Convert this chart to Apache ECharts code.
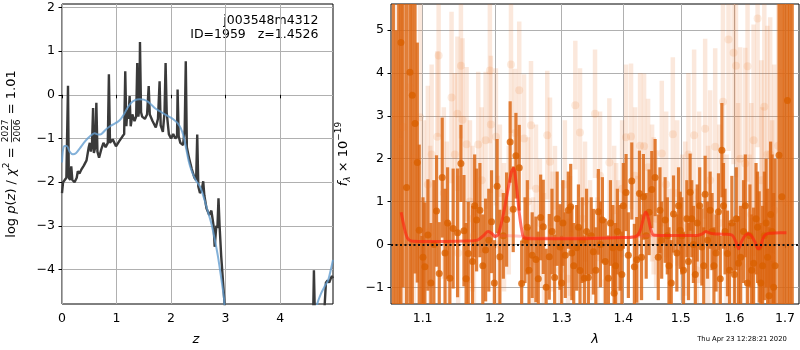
<!DOCTYPE html>
<html>
<head>
<meta charset="utf-8">
<script src="https://cdn.jsdelivr.net/npm/echarts@6/dist/echarts.min.js"></script>
<style>
html, body { margin: 0; padding: 0; background: #fff; }
#chart { width: 800px; height: 350px; }
</style>
</head>
<body>
<div id="chart"></div>
<script>
// ---- left panel: log p(z) ----
const pzZ = [0.00,0.02,0.05,0.08,0.10,0.11,0.125,0.15,0.17,0.19,0.23,0.27,0.29,0.32,0.36,0.40,0.45,0.49,0.51,0.53,0.55,0.57,0.585,0.61,0.63,0.65,0.68,0.72,0.76,0.80,0.84,0.86,0.88,0.93,0.99,1.05,1.11,1.14,1.16,1.18,1.20,1.22,1.24,1.26,1.29,1.33,1.36,1.38,1.40,1.42,1.43,1.45,1.47,1.52,1.56,1.59,1.61,1.66,1.72,1.76,1.79,1.81,1.85,1.88,1.90,1.92,1.96,2.00,2.04,2.08,2.11,2.12,2.14,2.17,2.22,2.25,2.27,2.29,2.33,2.38,2.43,2.46,2.48,2.50,2.53,2.56,2.59,2.61,2.65,2.70,2.74,2.78,2.80,2.83,2.85,2.87,2.89,2.92,2.96,3.02,4.60,4.62,4.64,4.80,4.84,4.87,4.90,4.93,4.95,4.97];
const pzLogp = [-2.25,-2.0,-1.95,-1.9,-1.9,0.21,-1.9,-1.95,-1.64,-1.95,-2.0,-1.9,-1.75,-1.8,-1.7,-1.62,-1.5,-1.2,-1.1,-1.3,-1.15,-0.3,-1.33,-1.2,-0.18,-1.3,-1.44,-1.25,-1.1,-1.2,-1.1,0.47,-1.1,-1.02,-1.18,-1.06,-0.95,-0.9,0.54,-0.72,-0.34,-0.55,-0.03,-0.72,-0.45,-0.6,-0.5,0.73,-0.5,-0.3,1.21,-0.4,-0.5,-0.55,-0.45,0.2,-0.45,-0.6,-0.75,-0.55,0.31,-0.7,-0.85,-0.4,0.73,-0.4,-0.9,-1.0,-0.9,-1.0,-0.95,0.12,-0.95,-1.1,-1.15,-0.8,0.77,-1.2,-1.45,-1.7,-1.9,-1.95,-0.91,-2.1,-2.25,-2.2,-1.98,-2.3,-2.6,-2.75,-2.65,-3.0,-3.48,-3.0,-3.05,-2.37,-3.0,-3.7,-4.4,-5.5,-5.5,-4.02,-5.2,-5.2,-4.3,-4.25,-4.3,-4.2,-4.15,-4.2];
const smoothZ = [0.00,0.02,0.05,0.09,0.14,0.20,0.26,0.33,0.40,0.47,0.54,0.60,0.66,0.72,0.80,0.88,0.95,1.02,1.08,1.14,1.20,1.27,1.34,1.42,1.50,1.58,1.65,1.72,1.80,1.88,1.96,2.04,2.12,2.18,2.23,2.28,2.33,2.38,2.45,2.53,2.60,2.67,2.74,2.80,2.86,2.92,2.97,3.02,4.62,4.68,4.75,4.82,4.88,4.93,4.97];
const smoothLogp = [-1.55,-1.25,-1.17,-1.17,-1.3,-1.36,-1.33,-1.22,-1.1,-1.0,-0.92,-0.88,-0.91,-0.9,-0.8,-0.72,-0.67,-0.62,-0.55,-0.44,-0.3,-0.18,-0.12,-0.1,-0.11,-0.16,-0.24,-0.32,-0.38,-0.44,-0.5,-0.56,-0.65,-0.77,-0.95,-1.25,-1.55,-1.75,-1.95,-2.1,-2.35,-2.65,-2.95,-3.3,-3.7,-4.2,-4.65,-5.2,-5.2,-4.79,-4.55,-4.38,-4.25,-4.0,-3.78];
const zTicks = [0, 1, 2, 3, 4];
const pzTicks = [-4, -3, -2, -1, 0, 1, 2];

// ---- right panel: spectrum ----
const darkWave = [1.062,1.0655,1.069,1.0717,1.0745,1.079,1.0834,1.0864,1.090,1.093,
  1.0955,1.099,1.103,1.107,1.111,1.115,1.1185,1.1222,1.1262,1.130,
  1.1366,1.1411,1.1472,1.1518,1.156,1.162,1.168,1.1737,1.1784,1.1865,
  1.195,1.199,1.203,1.207,1.212,1.2168,1.222,1.2265,1.2305,1.2354,
  1.239,1.244,1.250,1.2548,1.2604,1.2676,1.2716,1.276,1.2808,1.285,
  1.2891,1.2974,1.302,1.3057,1.3104,1.3142,1.319,1.3237,1.329,1.336,
  1.3424,1.347,1.3505,1.3586,1.3652,1.370,1.3751,1.3824,1.3846,1.390,
  1.3945,1.400,1.4046,1.4085,1.4143,1.4187,1.4228,1.4273,1.4342,1.439,
  1.444,1.4487,1.4545,1.460,1.466,1.4721,1.479,1.487,1.493,1.4989,
  1.505,1.511,1.517,1.523,1.530,1.5385,1.5446,1.5539,1.561,1.5696,
  1.576,1.582,1.5867,1.595,1.600,1.6078,1.6175,1.625,1.630,1.6372,
  1.642,1.6482,1.655,1.662,1.668,1.674,1.680,1.688,1.6938,1.699,
  1.7052,1.710,1.715,
  1.1005,1.1335,1.159,1.171,1.1825,1.191,1.2475,1.264,1.293,1.300,
  1.316,1.3265,1.3325,1.3395,1.3545,1.362,1.3785,1.387,1.3975,1.431,
  1.463,1.476,1.483,1.496,1.502,1.514,1.520,1.5265,1.5345,1.542,
  1.549,1.5575,1.565,1.573,1.579,1.5905,1.6035,1.612,1.621,1.6335,
  1.645,1.6515,1.6585,1.665,1.671,1.677];
const darkFlux = [8,-4,6,4.71,7,1.33,4.02,3.48,2.82,1.91,
  0.33,-1.6,-0.52,0.22,-0.9,0.0,0.78,-0.68,1.56,-0.2,
  -0.79,0.37,0.27,1.89,0.32,-0.21,-0.40,0.57,0.80,-0.13,
  0.53,-0.9,1.36,-0.29,0.2,0.58,2.39,0.82,2.07,1.79,
  -0.91,0.1,-0.6,-0.25,-0.35,0.63,0.41,-1.0,-0.29,0.3,
  -0.77,-0.06,0.5,-0.25,0.8,0.88,-0.5,-0.08,-0.61,-0.79,
  -0.77,0.2,-0.17,0.76,0.57,-0.4,-0.79,-0.08,-1.14,0.3,
  -0.08,0.9,1.21,-0.25,1.48,-0.52,-0.36,1.19,1.11,0.2,
  0.75,1.28,1.56,-0.3,0.1,0.57,-0.5,0.71,-0.2,0.33,
  -0.6,0.60,1.22,0.0,0.5,-0.06,1.17,0.80,-0.5,0.76,
  2.2,0.3,-0.21,0.5,-0.7,-0.44,0.30,-0.9,0.2,-0.44,
  0.6,-0.06,-0.5,0.5,-1.2,0.3,-0.5,2.08,1.11,6.5,
  3.36,-2,7,
  -0.3,0.5,-0.8,0.9,-0.5,0.1,0.4,-0.8,0.6,-0.9,
  -0.2,0.4,0.1,0.3,-0.6,0.0,0.5,-0.5,-0.7,-0.3,
  0.8,0.2,-0.9,0.9,0.2,-0.4,0.6,-0.7,0.9,-0.5,
  0.1,0.3,-0.2,-0.8,0.9,-0.6,0.6,-0.3,0.9,-0.6,
  0.4,-0.9,0.2,-0.3,0.7,-1.0];
const darkErr = [10,9,8,7,8,7,6,5,3.5,2.8,
  2.0,1.8,1.5,1.3,1.4,1.5,1.3,1.2,1.4,1.5,
  1.3,1.4,1.5,0.9,1.3,1.2,1.3,1.2,1.1,1.2,
  1.2,1.0,1.1,1.1,1.0,1.1,0.95,1.0,1.0,1.0,
  1.0,1.0,1.0,1.0,1.0,1.0,1.1,0.9,1.0,1.0,
  1.0,1.0,1.0,1.0,0.9,1.0,1.0,1.0,1.0,1.0,
  1.0,0.9,1.0,1.0,1.0,1.0,1.0,1.0,1.0,1.0,
  1.0,1.0,0.9,1.0,0.9,1.0,1.0,1.0,1.0,1.0,
  1.0,0.9,0.9,1.0,0.9,1.0,0.9,0.9,0.9,0.9,
  0.9,0.9,0.9,0.9,0.9,0.9,0.9,0.9,0.9,0.9,
  1.1,1.0,1.0,1.1,1.2,1.1,1.2,1.2,1.2,1.3,
  1.3,1.3,1.4,1.5,1.6,1.8,2.5,8,8,9,
  9,9,10,
  1.4,1.3,1.3,1.2,1.2,1.2,1.1,1.1,1.1,1.1,
  1.1,1.0,1.0,1.0,1.0,1.0,1.0,1.0,1.0,1.0,
  1.0,0.9,1.0,0.9,0.9,0.9,0.9,0.9,0.9,0.9,
  0.9,0.9,0.9,1.0,1.0,1.1,1.2,1.2,1.2,1.3,
  1.3,1.4,1.5,1.6,1.7,2.2];

const lightWave = [1.065,1.0695,1.075,1.0834,1.0886,1.0966,1.1017,1.1069,1.112,1.1196,
  1.1214,1.1284,1.1325,1.1389,1.1434,1.147,1.1518,1.154,1.1597,1.1643,
  1.170,1.176,1.181,1.1865,1.1926,1.194,1.2013,1.207,1.213,1.2232,
  1.229,1.2354,1.2426,1.2485,1.253,1.2605,1.2665,1.2727,1.2777,1.2819,
  1.2896,1.2974,1.305,1.3131,1.3215,1.329,1.337,1.3451,1.3532,1.3614,
  1.3696,1.3767,1.3846,1.3912,1.3979,1.4046,1.413,1.4199,1.4285,1.4354,
  1.4423,1.4492,1.4562,1.4662,1.4739,1.4858,1.4935,1.5025,1.5139,1.5243,
  1.5335,1.5446,1.5539,1.5634,1.571,1.578,1.5886,1.5983,1.6029,1.611,
  1.6208,1.6253,1.6327,1.6372,1.6451,1.6525,1.6584,1.6644,1.6702,1.6783,
  1.6863,1.6945,1.7027,1.7109,
  1.110,1.148,1.168,1.204,1.220,1.256,1.286,1.310,1.333,1.357,
  1.388,1.424,1.452,1.480,1.508,1.529,1.550,1.585,1.607,1.629,
  1.654,1.674];
const lightFlux = [3.0,2.4,2.74,3.67,2.0,2.97,0.3,1.4,2.1,2.51,
  4.41,1.2,0.5,3.43,2.1,3.05,4.17,2.91,2.34,1.0,
  0.2,2.33,1.5,2.43,4.06,2.80,2.51,1.2,0.4,4.2,
  2.6,3.60,2.47,1.0,2.78,1.3,0.5,-0.3,2.55,1.93,
  0.9,-0.6,1.4,0.2,3.25,2.61,1.0,0.1,3.05,1.6,
  -0.9,1.91,0.8,0.0,1.3,2.5,2.52,1.6,2.3,2.29,
  1.8,1.2,0.6,2.12,1.4,2.57,1.2,0.4,2.10,2.55,
  1.1,2.70,1.5,2.28,0.5,3.33,4.78,4.47,4.17,2.0,
  1.89,4.16,0.7,2.43,5.27,1.5,3.21,2.1,2.1,0.8,
  2.3,4.0,1.0,3.0,
  0.3,-0.2,0.6,0.0,0.8,-0.4,0.3,-0.8,0.6,-0.3,
  0.4,0.0,0.9,-0.4,0.6,-0.6,0.3,-0.2,0.8,-0.5,
  0.4,-0.3];
const lightErr = [6,6,6,5,5,3,2.6,2.3,2.1,2.0,
  1.9,2.0,1.9,2.0,1.9,1.8,1.7,1.9,1.8,1.9,
  1.8,1.7,1.7,1.6,1.7,1.6,1.6,1.6,1.5,1.6,
  1.5,1.6,1.5,1.5,1.5,1.5,1.5,1.5,1.5,1.5,
  1.4,1.4,1.5,1.4,1.5,1.5,1.4,1.4,1.5,1.5,
  1.4,1.5,1.5,1.5,1.6,1.7,1.7,1.6,1.7,1.7,
  1.6,1.6,1.6,1.7,1.7,1.8,1.7,1.7,1.9,2.0,
  2.0,2.1,2.1,2.3,2.3,2.4,2.6,2.6,2.6,2.6,
  2.7,2.7,2.6,2.7,3.0,2.8,3.0,3.0,3.2,3.4,
  4,6,6,8,
  2.0,1.8,1.7,1.6,1.5,1.5,1.4,1.4,1.4,1.4,
  1.5,1.6,1.6,1.7,1.8,1.9,2.0,2.3,2.5,2.6,
  2.8,3.2];

const modelWave = [1.072,1.076,1.080,1.085,1.10,1.13,1.16,1.175,1.183,1.190,1.196,1.200,1.205,1.212,1.219,1.224,1.227,1.231,1.235,1.239,1.243,1.26,1.30,1.35,1.40,1.42,1.428,1.434,1.438,1.442,1.447,1.452,1.47,1.50,1.53,1.540,1.546,1.552,1.56,1.58,1.595,1.603,1.608,1.613,1.620,1.627,1.633,1.640,1.646,1.651,1.656,1.662,1.67,1.69,1.703];
const modelFlux = [0.75,0.4,0.15,0.08,0.07,0.07,0.08,0.1,0.2,0.3,0.25,0.18,0.25,0.7,1.3,1.7,1.78,1.4,0.8,0.35,0.15,0.13,0.13,0.14,0.16,0.18,0.3,0.6,0.75,0.65,0.35,0.22,0.21,0.21,0.21,0.25,0.3,0.27,0.25,0.24,0.22,0.05,-0.1,0.05,0.2,0.25,0.2,0.05,-0.1,-0.05,0.15,0.24,0.26,0.27,0.27];
const contWave = [1.185,1.20,1.22,1.245,1.26,1.41,1.425,1.44,1.46,1.47];
const contFlux = [0.2,0.2,0.2,0.18,0.15,0.17,0.19,0.2,0.21,0.21];
const waveTicks = [1.1, 1.2, 1.3, 1.4, 1.5, 1.6, 1.7];
const fluxTicks = [-1, 0, 1, 2, 3, 4, 5];

const FONT = 'DejaVu Sans';
const minus = v => String(v).replace('-', '\u2212');
const lg = Math.log10;

function errorBars(width, color) {
  return function (params, api) {
    const cs = params.coordSys;
    const x = api.value(0), y = api.value(1), e = api.value(2);
    const p1 = api.coord([x, y + e]);
    const p2 = api.coord([x, y - e]);
    const top = Math.max(p1[1], cs.y);
    const bot = Math.min(p2[1], cs.y + cs.height);
    const left = Math.max(p1[0] - width / 2, cs.x);
    const right = Math.min(p1[0] + width / 2, cs.x + cs.width);
    if (bot <= top || right <= left) return null;
    return {
      type: 'rect',
      shape: { x: left, y: top, width: right - left, height: bot - top },
      style: { fill: color }
    };
  };
}

// text measuring for the math-like axis titles
const ctx = document.createElement('canvas').getContext('2d');
function tw(str, size, italic) {
  ctx.font = (italic ? 'italic ' : '') + size + 'px "' + FONT + '"';
  return ctx.measureText(str).width;
}
function mathLabel(pieces, cx, cy) {
  const widths = pieces.map(p => p.num ? Math.max(tw(p.num, p.size), tw(p.den, p.size)) + 2 : tw(p.t, p.size, p.italic));
  const total = widths.reduce((a, b) => a + b, 0);
  let x = -total / 2;
  const children = [];
  pieces.forEach((p, i) => {
    const w = widths[i];
    if (p.num) {
      children.push({ type: 'text', x: x + w / 2, y: -1.5, style: { text: p.num, fontFamily: FONT, fontSize: p.size, fill: '#000', align: 'center', textAlign: 'center', verticalAlign: 'bottom', textVerticalAlign: 'bottom' } });
      children.push({ type: 'text', x: x + w / 2, y: 1, style: { text: p.den, fontFamily: FONT, fontSize: p.size, fill: '#000', align: 'center', textAlign: 'center', verticalAlign: 'top', textVerticalAlign: 'top' } });
      children.push({ type: 'line', shape: { x1: x + 1, y1: -0.5, x2: x + w - 1, y2: -0.5 }, style: { stroke: '#000', lineWidth: 0.8 } });
    } else {
      children.push({ type: 'text', x: x, y: p.dy || 0, style: { text: p.t, fontFamily: FONT, fontSize: p.size, fontStyle: p.italic ? 'italic' : 'normal', fill: '#000', align: 'left', textAlign: 'left', verticalAlign: 'middle', textVerticalAlign: 'middle' } });
    }
    x += w;
  });
  return { type: 'group', x: cx, y: cy, rotation: Math.PI / 2, children: children };
}

const chart = echarts.init(document.getElementById('chart'), null, { renderer: 'canvas' });

const tickStyle = { length: 3.5, lineStyle: { color: '#000', width: 1 } };
const labelStyle = { color: '#000', fontFamily: FONT, fontSize: 12.5, margin: 7 };
const gridLine = { show: true, lineStyle: { color: '#b0b0b0', width: 1 } };

const option = {
  animation: false,
  grid: [
    { left: 62, top: 4, width: 271, height: 300, show: true, borderColor: '#000', borderWidth: 1 },
    { left: 391, top: 4, width: 408, height: 300, show: true, borderColor: '#000', borderWidth: 1 }
  ],
  xAxis: [
    { type: 'value', gridIndex: 0, min: 0, max: 4.97,
      axisLine: { show: false },
      axisTick: Object.assign({ customValues: zTicks }, tickStyle),
      axisLabel: Object.assign({ customValues: zTicks, formatter: minus }, labelStyle, { margin: 8 }),
      splitLine: gridLine },
    { type: 'value', gridIndex: 1, min: lg(1.059), max: lg(1.729),
      axisLine: { show: false },
      axisTick: Object.assign({ customValues: waveTicks.map(lg) }, tickStyle),
      axisLabel: Object.assign({ customValues: waveTicks.map(lg), formatter: v => Math.pow(10, v).toFixed(1) }, labelStyle, { margin: 8 }),
      splitLine: gridLine }
  ],
  yAxis: [
    { type: 'value', gridIndex: 0, min: -4.79, max: 2.08,
      axisLine: { show: false },
      axisTick: Object.assign({ customValues: pzTicks }, tickStyle),
      axisLabel: Object.assign({ customValues: pzTicks, formatter: minus }, labelStyle),
      splitLine: gridLine },
    { type: 'value', gridIndex: 1, min: -1.39, max: 5.61,
      axisLine: { show: false },
      axisTick: Object.assign({ customValues: fluxTicks }, tickStyle),
      axisLabel: Object.assign({ customValues: fluxTicks, formatter: minus }, labelStyle),
      splitLine: gridLine }
  ],
  series: [
    { type: 'line', xAxisIndex: 0, yAxisIndex: 0, showSymbol: false, silent: true,
      data: pzZ.map((z, i) => [z, pzLogp[i]]),
      lineStyle: { color: '#3a3a3a', width: 2.4 } },
    { type: 'line', xAxisIndex: 0, yAxisIndex: 0, showSymbol: false, silent: true, smooth: 0.3,
      data: smoothZ.map((z, i) => [z, smoothLogp[i]]),
      lineStyle: { color: 'rgba(100,158,208,0.8)', width: 2 } },

    { type: 'custom', xAxisIndex: 1, yAxisIndex: 1, silent: true,
      renderItem: errorBars(4.5, 'rgba(232,115,35,0.16)'),
      encode: { x: 0, y: 1 },
      data: lightWave.map((w, i) => [lg(w), lightFlux[i], lightErr[i]]) },
    { type: 'scatter', xAxisIndex: 1, yAxisIndex: 1, silent: true, symbolSize: 8,
      itemStyle: { color: 'rgba(232,115,35,0.18)' },
      data: lightWave.map((w, i) => [lg(w), lightFlux[i]]) },
    { type: 'custom', xAxisIndex: 1, yAxisIndex: 1, silent: true,
      renderItem: errorBars(3.2, 'rgba(220,100,15,0.82)'),
      encode: { x: 0, y: 1 },
      data: darkWave.map((w, i) => [lg(w), darkFlux[i], darkErr[i]]) },
    { type: 'scatter', xAxisIndex: 1, yAxisIndex: 1, silent: true, symbolSize: 7,
      itemStyle: { color: '#d96000' },
      data: darkWave.map((w, i) => [lg(w), darkFlux[i]]) },
    { type: 'line', xAxisIndex: 1, yAxisIndex: 1, showSymbol: false, silent: true, smooth: 0.3,
      data: contWave.map((w, i) => [lg(w), contFlux[i]]),
      lineStyle: { color: 'rgba(255,80,80,0.3)', width: 3 } },
    { type: 'line', xAxisIndex: 1, yAxisIndex: 1, showSymbol: false, silent: true, smooth: 0.3,
      data: modelWave.map((w, i) => [lg(w), modelFlux[i]]),
      lineStyle: { color: 'rgba(255,35,15,0.65)', width: 3 },
      markLine: { silent: true, symbol: ['none', 'none'], label: { show: false },
        lineStyle: { color: '#111', width: 1.8, type: [2, 2.5] },
        data: [{ yAxis: 0 }] } }
  ],
  graphic: [
    { type: 'text', x: 318.5, y: 21, style: { text: 'j003548m4312', fontFamily: FONT, fontSize: 12.5, fill: '#000', align: 'right', textAlign: 'right', verticalAlign: 'middle', textVerticalAlign: 'middle' } },
    { type: 'text', x: 318.5, y: 35, style: { text: 'ID=1959   z=1.4526', fontFamily: FONT, fontSize: 12.5, fill: '#000', align: 'right', textAlign: 'right', verticalAlign: 'middle', textVerticalAlign: 'middle' } },
    { type: 'text', x: 196, y: 340, style: { text: 'z', fontFamily: FONT, fontSize: 13, fontStyle: 'italic', fill: '#000', align: 'center', textAlign: 'center', verticalAlign: 'middle', textVerticalAlign: 'middle' } },
    { type: 'text', x: 595, y: 340, style: { text: 'λ', fontFamily: FONT, fontSize: 13, fontStyle: 'italic', fill: '#000', align: 'center', textAlign: 'center', verticalAlign: 'middle', textVerticalAlign: 'middle' } },
    { type: 'text', x: 742, y: 339.5, style: { text: 'Thu Apr 23 12:28:21 2020', fontFamily: FONT, fontSize: 6.8, fill: '#000', align: 'center', textAlign: 'center', verticalAlign: 'middle', textVerticalAlign: 'middle' } },
    mathLabel([
      { t: 'log ', size: 13 },
      { t: 'p', size: 13, italic: true },
      { t: '(', size: 13 },
      { t: 'z', size: 13, italic: true },
      { t: ') / ', size: 13 },
      { t: 'χ', size: 13, italic: true },
      { t: '2', size: 9, dy: -5 },
      { t: ' = ', size: 13 },
      { num: '2027', den: '2006', size: 9 },
      { t: ' = 1.01', size: 13 }
    ], 12, 154),
    mathLabel([
      { t: 'f', size: 13, italic: true },
      { t: 'λ', size: 9, italic: true, dy: 4 },
      { t: ' × 10', size: 13 },
      { t: '\u221219', size: 9, dy: -5 }
    ], 344, 154)
  ]
};
chart.setOption(option);
</script>
</body>
</html>
